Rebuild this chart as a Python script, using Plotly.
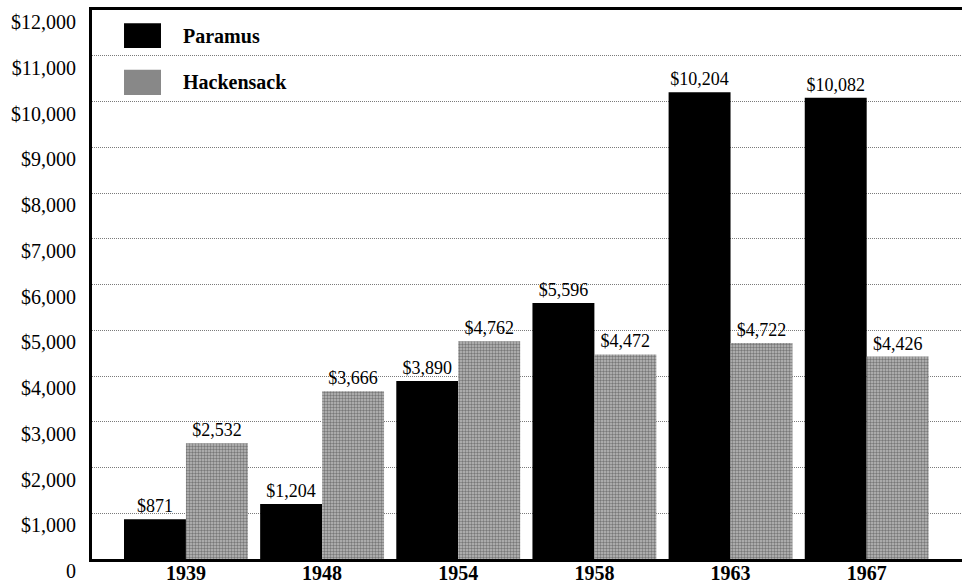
import plotly.graph_objects as go

years = ["1939", "1948", "1954", "1958", "1963", "1967"]
paramus = [871, 1204, 3890, 5596, 10204, 10082]
hackensack = [2532, 3666, 4762, 4472, 4722, 4426]
series_names = ["Paramus", "Hackensack"]
y_tickvals = list(range(0, 13000, 1000))
y_ticktext = ["0"] + [f"${v:,}" for v in range(1000, 13000, 1000)]

SERIF = "Liberation Serif, Times New Roman, serif"

def money(v):
    return f"${v:,}"

fig = go.Figure()
fig.add_trace(go.Bar(
    x=years, y=paramus, name=series_names[0],
    marker=dict(color="black", line=dict(width=0)),
    text=[money(v) for v in paramus], textposition="outside",
    textfont=dict(family=SERIF, size=18, color="black"),
    cliponaxis=False,
))
fig.add_trace(go.Bar(
    x=years, y=hackensack, name=series_names[1],
    marker=dict(color="#999999", line=dict(width=0),
                pattern=dict(shape=".", fgcolor="#333333", bgcolor="#bcbcbc",
                             size=3, solidity=0.5)),
    text=[money(v) for v in hackensack], textposition="outside",
    textfont=dict(family=SERIF, size=18, color="black"),
    cliponaxis=False,
))

# legend swatches (paper coordinates)
sw = [(0.976, 0.931, "black"), (0.891, 0.845, "#888888")]
for (y1, y0, col), name in zip(sw, series_names):
    fig.add_shape(type="rect", xref="paper", yref="paper",
                  x0=0.0368, x1=0.0793, y0=y0, y1=y1,
                  fillcolor=col, line=dict(width=0), layer="above")
    fig.add_annotation(xref="paper", yref="paper", x=0.1023, y=(y0 + y1) / 2,
                       text=f"<b>{name}</b>", showarrow=False,
                       xanchor="left", yanchor="middle",
                       font=dict(family=SERIF, size=20, color="black"))

fig.update_layout(
    width=962, height=584,
    margin=dict(l=92, r=0, t=10, b=25, autoexpand=False),
    paper_bgcolor="white", plot_bgcolor="white",
    barmode="group", bargap=0.09, bargroupgap=0,
    showlegend=False,
    font=dict(family=SERIF, color="black"),
)
fig.update_xaxes(
    type="category", range=[-0.69, 5.70], automargin=False,
    showline=True, linecolor="black", linewidth=3, mirror=True,
    showgrid=False, ticks="", zeroline=False, ticklabelstandoff=-6,
    tickfont=dict(family=SERIF, size=20, color="black", weight="bold"),
)
fig.update_yaxes(
    range=[0, 12000.01], tickvals=y_tickvals, ticktext=y_ticktext, automargin=False,
    showline=True, linecolor="black", linewidth=3,
    showgrid=True, gridcolor="#7a7a7a", griddash="1px,1px", gridwidth=1,
    zeroline=False, ticks="", ticklabelshift=12, ticklabelstandoff=9,
    ticklabeloverflow="allow",
    tickfont=dict(family=SERIF, size=20, color="black"),
)

fig.write_html("out.html", config={"displayModeBar": False},
               post_script="document.body.style.margin='0';document.body.style.overflow='hidden';")
